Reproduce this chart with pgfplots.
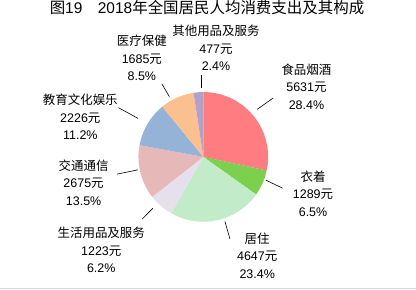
\documentclass[border=0pt]{standalone}
\usepackage{pgfplots}
\pgfplotsset{compat=1.18}
\usepackage{pgfplotstable}
\usepackage{fontspec}
\setmainfont{Liberation Sans}
\newfontfamily\cjk{Noto Sans CJK SC}
\newcommand\C[1]{{\cjk #1}}
\definecolor{c1}{HTML}{FF7C80}
\definecolor{c2}{HTML}{7DD04E}
\definecolor{c3}{HTML}{C2EBCA}
\definecolor{c4}{HTML}{E6E0EC}
\definecolor{c5}{HTML}{E6B9B8}
\definecolor{c6}{HTML}{95B3D7}
\definecolor{c7}{HTML}{FAC08F}
\definecolor{c8}{HTML}{B3A2C7}
\pgfplotstableread{
val col
5631 c1
1289 c2
4647 c3
1223 c4
2675 c5
2226 c6
1685 c7
477 c8
}\pietable
\begin{document}
\begin{tikzpicture}
\gdef\pietotal{0}
\pgfplotsforeachungrouped \i in {0,...,7}{%
  \pgfplotstablegetelem{\i}{val}\of\pietable
  \pgfmathsetmacro\t{\pietotal+\pgfplotsretval/100}%
  \xdef\pietotal{\t}}
\begin{axis}[x=1pt,y=1pt,xmin=0,xmax=416,ymin=0,ymax=323,hide axis,clip=false,
  scale only axis]
\gdef\curang{90}
\pgfplotsforeachungrouped \i in {0,...,7}{%
  \pgfplotstablegetelem{\i}{val}\of\pietable
  \pgfmathsetmacro\endang{\curang-\pgfplotsretval/100/\pietotal*360}%
  \pgfmathsetmacro\sx{203.3+65*cos(\curang)}%
  \pgfmathsetmacro\sy{147+65*sin(\curang)}%
  \pgfplotstablegetelem{\i}{col}\of\pietable
  \edef\temp{\noexpand\fill[\pgfplotsretval] (axis cs:203.3,147) -- (axis cs:\sx,\sy) arc[start angle=\curang, end angle=\endang, radius=65pt] -- cycle;}%
  \temp
  \xdef\curang{\endang}}
% leader lines
\draw[black, line width=0.6pt] (axis cs:257.3,194.7) -- (axis cs:273.3,206.0);
\draw[black, line width=0.6pt] (axis cs:266,123.7) -- (axis cs:282.7,115.7);
\draw[black, line width=0.6pt] (axis cs:225,82.3) -- (axis cs:230,64.7);
\draw[black, line width=0.6pt] (axis cs:152.7,95.5) -- (axis cs:142,84.7);
\draw[black, line width=0.6pt] (axis cs:137.7,134) -- (axis cs:116.7,129.7);
\draw[black, line width=0.6pt] (axis cs:137.7,185.7) -- (axis cs:118.3,196.3);
\draw[black, line width=0.6pt] (axis cs:169.3,207.3) -- (axis cs:161.7,220.3);
\draw[black, line width=0.6pt] (axis cs:201,215.7) -- (axis cs:201,229);
% labels
\tikzset{lab/.style={align=center,inner sep=0pt,font=\fontsize{12.5}{17.5}\selectfont}}
\node[lab] at (axis cs:306.7,217.3) {\C{食品烟酒}\\5631\C{元}\\28.4\%};
\node[lab] at (axis cs:313.3,110.3) {\C{衣着}\\1289\C{元}\\6.5\%};
\node[lab] at (axis cs:257.3,48) {\C{居住}\\4647\C{元}\\23.4\%};
\node[lab] at (axis cs:101,53.7) {\C{生活用品及服务}\\1223\C{元}\\6.2\%};
\node[lab] at (axis cs:83.3,121.3) {\C{交通通信}\\2675\C{元}\\13.5\%};
\node[lab] at (axis cs:80,187) {\C{教育文化娱乐}\\2226\C{元}\\11.2\%};
\node[lab] at (axis cs:141.7,246.3) {\C{医疗保健}\\1685\C{元}\\8.5\%};
\node[lab] at (axis cs:216,256) {\C{其他用品及服务}\\477\C{元}\\2.4\%};
\node[inner sep=0pt,font=\fontsize{15.5}{18}\selectfont] at (axis cs:207,297) {\C{图}19\hspace{1em}2018\C{年全国居民人均消费支出及其构成}};
\draw[gray!30, line width=1pt] (axis cs:0,15) -- (axis cs:416,15);
\end{axis}
\end{tikzpicture}
\end{document}
